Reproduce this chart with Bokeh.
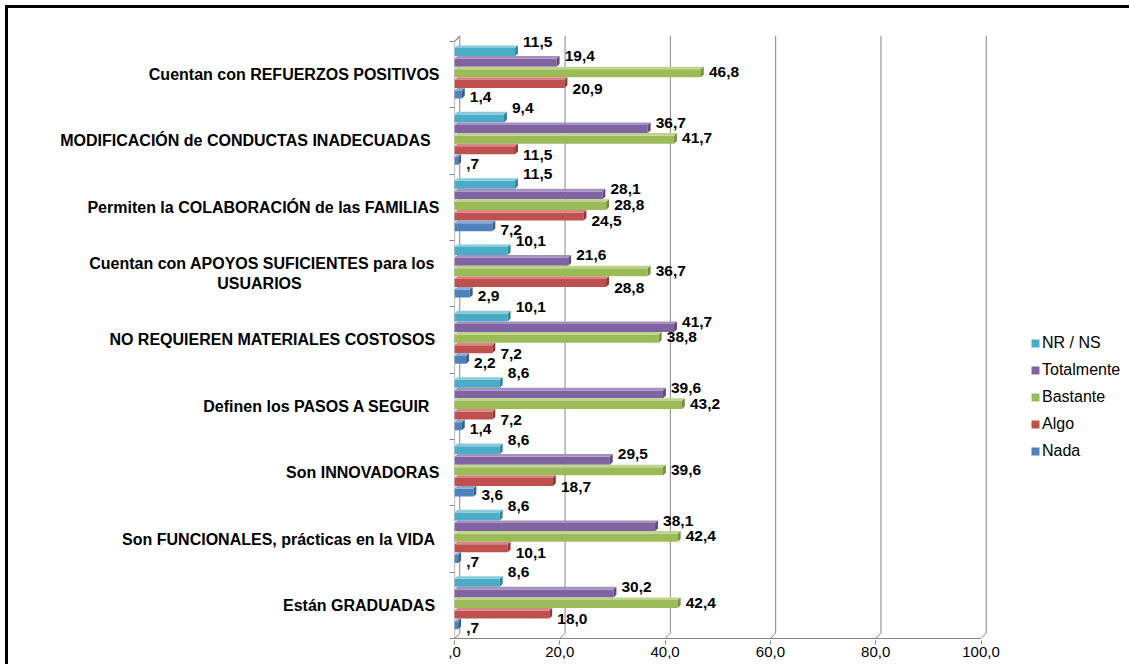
from bokeh.plotting import figure
from bokeh.models import Range1d, FixedTicker, Legend, LegendItem, ColumnDataSource
from bokeh.core.properties import value
from bokeh.embed import file_html
from bokeh.resources import INLINE

categories = [
    "Cuentan con REFUERZOS POSITIVOS",
    "MODIFICACIÓN de CONDUCTAS  INADECUADAS ",
    "Permiten la COLABORACIÓN de las FAMILIAS",
    "Cuentan con APOYOS SUFICIENTES  para los\nUSUARIOS" + "\u00a0" * 31,
    "NO REQUIEREN MATERIALES COSTOSOS ",
    "Definen  los PASOS A SEGUIR ",
    "Son INNOVADORAS",
    "Son FUNCIONALES, prácticas en la VIDA ",
    "Están GRADUADAS ",
]
series_names = ["NR / NS", "Totalmente", "Bastante", "Algo", "Nada"]
nr_ns = [11.5, 9.4, 11.5, 10.1, 10.1, 8.6, 8.6, 8.6, 8.6]
totalmente = [19.4, 36.7, 28.1, 21.6, 41.7, 39.6, 29.5, 38.1, 30.2]
bastante = [46.8, 41.7, 28.8, 36.7, 38.8, 43.2, 39.6, 42.4, 42.4]
algo = [20.9, 11.5, 24.5, 28.8, 7.2, 7.2, 18.7, 10.1, 18.0]
nada = [1.4, 0.7, 7.2, 2.9, 2.2, 1.4, 3.6, 0.7, 0.7]
x_ticks = [0, 20, 40, 60, 80, 100]

series_values = [nr_ns, totalmente, bastante, algo, nada]
front_colors = ["#4BACC6", "#8064A2", "#9BBB59", "#C0504D", "#4F81BD"]
top_colors = ["#86CADB", "#A590C0", "#BCD48C", "#D88683", "#86A9D6"]
side_colors = ["#31859C", "#5F4A7B", "#76923C", "#943634", "#365F91"]
label_dy = [-9, -5, 0, 6, 4]

FONT = "Liberation Sans"
n = len(categories)
slot = 0.16
depth_x = 0.55
depth_y = 0.04
wall_dx = 1.0
wall_dy = 0.08
top_y = 9.09
W, H = 1124, 659
MB_LEFT, MB_TOP, MB_BOTTOM = 449, 30, 24
px_per_unit = 5.265
x_end = (W - MB_LEFT) / px_per_unit

p = figure(width=W, height=H, output_backend="svg", toolbar_location=None,
           x_range=Range1d(0, x_end), y_range=Range1d(-0.03, top_y),
           min_border_left=MB_LEFT, min_border_right=0, min_border_top=MB_TOP,
           min_border_bottom=MB_BOTTOM)
p.outline_line_color = None
p.xgrid.grid_line_color = None
p.ygrid.grid_line_color = None
p.background_fill_color = "white"
p.border_fill_alpha = 0
p.styles = {
    "margin-left": "5px",
    "margin-top": "5px",
    "background": "linear-gradient(#000, #000) left top / 3px 100% no-repeat, "
                  "linear-gradient(#000, #000) left top / 100% 3px no-repeat, #ffffff",
}

# walls / gridlines (3D look)
wall_color = "#868686"
p.segment(x0=[t + wall_dx for t in x_ticks], y0=[wall_dy] * len(x_ticks),
          x1=[t + wall_dx for t in x_ticks], y1=[top_y] * len(x_ticks),
          line_color=wall_color, line_width=1)
p.segment(x0=list(x_ticks), y0=[0] * len(x_ticks), x1=[t + wall_dx for t in x_ticks],
          y1=[wall_dy] * len(x_ticks), line_color=wall_color, line_width=1)
p.segment(x0=[0, 0, 0], y0=[0, 0, n], x1=[x_ticks[-1], 0, wall_dx],
          y1=[0, n, n + wall_dy], line_color=wall_color, line_width=1.2)

front_renderers = []
for k, vals in enumerate(series_values):
    yc = [(n - 1 - i) + 0.5 + 0.04 + (2 - k) * slot for i in range(n)]
    bottom = [y - slot / 2 for y in yc]
    ftop = [y + slot / 2 - depth_y for y in yc]
    r = p.quad(left=[0] * n, right=vals, bottom=bottom, top=ftop,
               fill_color=front_colors[k], line_color=None)
    front_renderers.append(r)
    txs = [[0, depth_x, v + depth_x, v] for v in vals]
    tys = [[t, t + depth_y, t + depth_y, t] for t in ftop]
    p.patches(txs, tys, fill_color=top_colors[k], line_color=None)
    sxs = [[v, v + depth_x, v + depth_x, v] for v in vals]
    sys_ = [[b, b + depth_y, t + depth_y, t] for b, t in zip(bottom, ftop)]
    p.patches(sxs, sys_, fill_color=side_colors[k], line_color=None)
    labels = []
    for v in vals:
        s = f"{v:.1f}".replace(".", ",")
        if s.startswith("0,"):
            s = s[1:]
        labels.append(s)
    src = ColumnDataSource(dict(x=vals, y=yc, t=labels))
    p.text(x="x", y="y", text="t", source=src, x_offset=8, y_offset=label_dy[k],
           text_font=value(FONT), text_font_size="15.5px", text_font_style="bold",
           text_color="black", text_baseline="middle", text_align="left")

# x axis
p.xaxis.ticker = FixedTicker(ticks=x_ticks)
p.xaxis.major_label_overrides = {t: (f"{t:.1f}".replace(".", ",") if t else ",0") for t in x_ticks}
p.xaxis.axis_line_color = None
p.xaxis.major_tick_line_color = wall_color
p.xaxis.major_tick_out = 4
p.xaxis.major_tick_in = 0
p.xaxis.minor_tick_line_color = None
p.xaxis.major_label_standoff = 2
p.xaxis.major_label_text_font = FONT
p.xaxis.major_label_text_font_size = "15px"
p.xaxis.major_label_text_color = "black"

# y axis
centers = [(n - 1 - i) + 0.5 for i in range(n)]
p.yaxis.ticker = FixedTicker(ticks=centers, minor_ticks=list(range(n + 1)))
p.yaxis.major_label_overrides = {c: lab for c, lab in zip(centers, categories)}
p.yaxis.axis_line_color = None
p.yaxis.major_tick_line_color = None
p.yaxis.major_tick_out = 0
p.yaxis.major_tick_in = 0
p.yaxis.minor_tick_line_color = wall_color
p.yaxis.minor_tick_out = 5
p.yaxis.minor_tick_in = 0
p.yaxis.major_label_standoff = 10
p.yaxis.major_label_text_font = FONT
p.yaxis.major_label_text_font_size = "16px"
p.yaxis.major_label_text_font_style = "bold"
p.yaxis.major_label_text_color = "black"

legend = Legend(items=[LegendItem(label=s, renderers=[r]) for s, r in zip(series_names, front_renderers)],
                location=(576, 179), orientation="vertical")
legend.border_line_color = None
legend.background_fill_alpha = 0
legend.padding = 0
legend.margin = 0
legend.glyph_width = 10
legend.glyph_height = 10
legend.label_height = 20
legend.spacing = 7
legend.label_standoff = 2
legend.label_text_font = FONT
legend.label_text_font_size = "16px"
legend.label_text_color = "black"
p.add_layout(legend)

open("out.html", "w").write(file_html(p, INLINE))
